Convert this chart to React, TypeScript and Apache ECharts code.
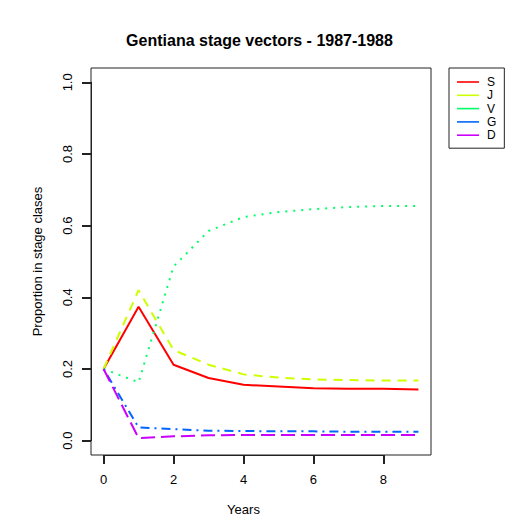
import React, { useEffect, useRef } from "react";
import * as echarts from "echarts";

const years = [0, 1, 2, 3, 4, 5, 6, 7, 8, 9];
const stageNames = ["S", "J", "V", "G", "D"];
const S = [0.2, 0.374, 0.212, 0.175, 0.156, 0.151, 0.146, 0.145, 0.145, 0.143];
const J = [0.2, 0.42, 0.253, 0.212, 0.185, 0.176, 0.171, 0.169, 0.168, 0.168];
const V = [0.2, 0.163, 0.486, 0.585, 0.624, 0.638, 0.646, 0.652, 0.655, 0.655];
const G = [0.2, 0.037, 0.032, 0.028, 0.027, 0.026, 0.026, 0.025, 0.025, 0.025];
const D = [0.2, 0.007, 0.012, 0.015, 0.016, 0.016, 0.016, 0.016, 0.016, 0.016];
const xTickMin = 0;
const xTickMax = 8;
const xTickStep = 2;
const yTickMin = 0;
const yTickMax = 1;
const yTickStep = 0.2;

const colors = ["#FF0000", "#CCFF00", "#00FF66", "#0066FF", "#CC00FF"];
const dashes: any[] = ["solid", [9, 7], [2, 6], [2, 5, 9, 5], [14, 6]];

export default function App() {
  const ref = useRef<HTMLDivElement>(null);
  useEffect(() => {
    if (!ref.current) return;
    const chart = echarts.init(ref.current, null, { renderer: "svg" });
    const seriesValues = [S, J, V, G, D];
    const font = "Liberation Sans, Arial, sans-serif";

    // plot box geometry (R-style 4% extension of the data range)
    const boxL = 91, boxR = 431, boxT = 68, boxB = 455;
    const xMin = 0 - 9 * 0.04, xMax = 9 + 9 * 0.04;
    const yMin = 0 - 0.04, yMax = 1 + 0.04;
    const pxX = (boxR - boxL) / (xMax - xMin);
    const pxY = (boxB - boxT) / (yMax - yMin);

    const hidden = { show: false };
    const axisLine = { show: true, onZero: false, lineStyle: { color: "#222", width: 1 } };
    const axisTick = { show: true, inside: false, length: 9, lineStyle: { color: "#222", width: 2 } };
    chart.setOption({
      animation: false,
      backgroundColor: "#ffffff",
      graphic: [
        {
          type: "text",
          x: 259.5,
          y: 40,
          style: {
            text: "Gentiana stage vectors - 1987-1988",
            textAlign: "center",
            textVerticalAlign: "middle",
            fontFamily: font,
            fontSize: 16,
            fontWeight: "bold",
            fill: "#000",
          },
        },
      ],
      legend: {
        orient: "vertical",
        left: 449,
        top: 68,
        padding: [8, 8, 7, 8],
        itemWidth: 22,
        itemHeight: 11,
        itemGap: 1.3,
        icon: "path://M0,0H22V1.6H0Z",
        borderColor: "#222",
        borderWidth: 1,
        borderRadius: 0,
        data: stageNames,
        textStyle: { fontFamily: font, fontSize: 12, color: "#000", padding: [0, 0, 0, 3], lineHeight: 11 },
      },
      grid: [
        {
          left: boxL,
          top: boxT,
          width: boxR - boxL,
          height: boxB - boxT,
          show: true,
          borderColor: "#222",
          borderWidth: 1,
        },
        {
          left: boxL + (xTickMin - xMin) * pxX,
          top: boxT,
          width: (xTickMax - xTickMin) * pxX,
          height: boxB - boxT,
        },
        {
          left: boxL,
          top: boxT + (yMax - yTickMax) * pxY,
          width: boxR - boxL,
          height: (yTickMax - yTickMin) * pxY,
        },
      ],
      xAxis: [
        { type: "value", gridIndex: 0, min: xMin, max: xMax, ...hidden },
        {
          type: "value",
          gridIndex: 1,
          position: "bottom",
          min: xTickMin,
          max: xTickMax,
          interval: xTickStep,
          name: "Years",
          nameLocation: "middle",
          nameGap: 48,
          nameTextStyle: { fontFamily: font, fontSize: 13, color: "#000" },
          axisLine,
          splitLine: { show: false },
          axisTick,
          axisLabel: { margin: 18, fontFamily: font, fontSize: 13, color: "#000" },
        },
        { type: "value", gridIndex: 2, min: 0, max: 1, ...hidden },
      ],
      yAxis: [
        { type: "value", gridIndex: 0, min: yMin, max: yMax, ...hidden },
        { type: "value", gridIndex: 1, min: 0, max: 1, ...hidden },
        {
          type: "value",
          gridIndex: 2,
          position: "left",
          min: yTickMin,
          max: yTickMax,
          interval: yTickStep,
          name: "Proportion in stage clases",
          nameLocation: "middle",
          nameGap: 47,
          nameRotate: 90,
          nameTextStyle: { fontFamily: font, fontSize: 13, color: "#000" },
          axisLine,
          splitLine: { show: false },
          axisTick,
          axisLabel: {
            rotate: 90,
            margin: 17,
            fontFamily: font,
            fontSize: 13,
            color: "#000",
            formatter: (v: number) => v.toFixed(1),
          },
        },
      ],
      series: stageNames.map((name, i) => ({
        name,
        type: "line",
        xAxisIndex: 0,
        yAxisIndex: 0,
        data: years.map((y, k) => [y, seriesValues[i][k]]),
        symbol: "none",
        showSymbol: false,
        color: colors[i],
        itemStyle: { color: colors[i] },
        lineStyle: { color: colors[i], width: 2, type: dashes[i] },
      })),
    });
    return () => chart.dispose();
  }, []);
  return (
    <div
      ref={ref}
      style={{ position: "fixed", left: 0, top: 0, width: 530, height: 532 }}
    />
  );
}
